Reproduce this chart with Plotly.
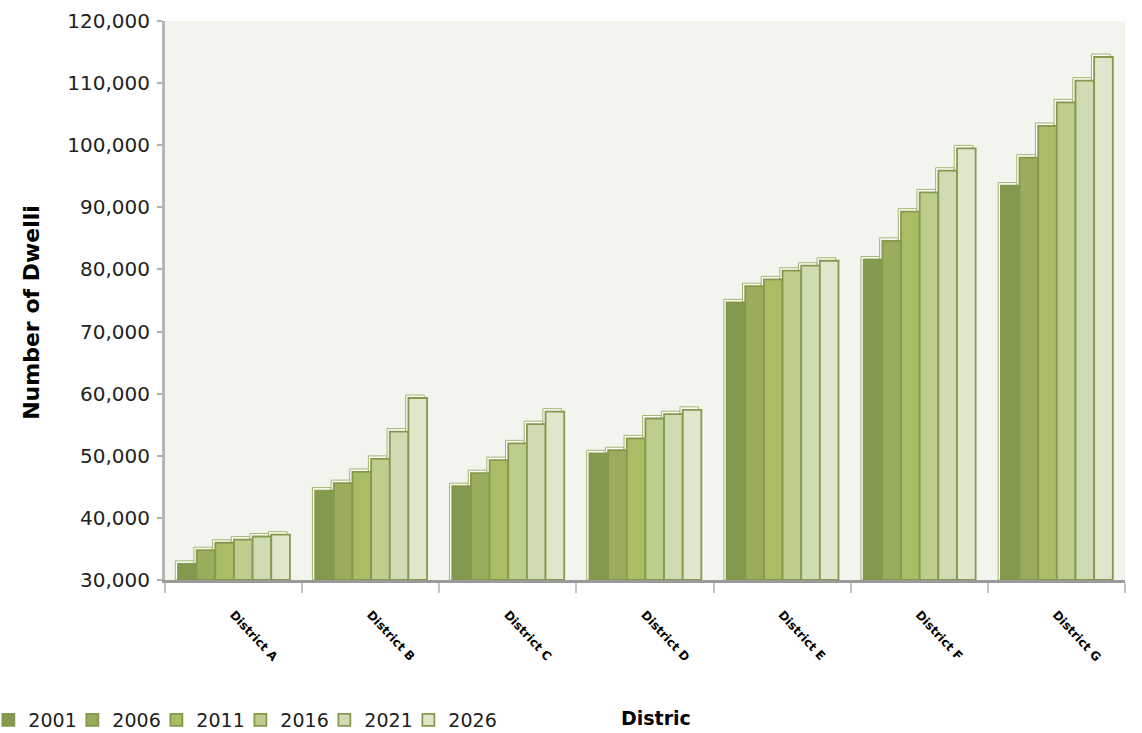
import plotly.graph_objects as go

# Dwelling counts by district, per census / projection year
districts = ["District A", "District B", "District C", "District D",
             "District E", "District F", "District G"]
years = ["2001", "2006", "2011", "2016", "2021", "2026"]

d2001 = [32600, 44400, 45100, 50400, 74700, 81600, 93500]
d2006 = [34800, 45600, 47200, 50900, 77300, 84600, 98000]
d2011 = [36000, 47400, 49300, 52800, 78400, 89300, 103100]
d2016 = [36500, 49500, 52000, 56000, 79800, 92400, 106900]
d2021 = [37000, 53900, 55100, 56700, 80600, 95900, 110400]
d2026 = [37300, 59300, 57100, 57400, 81400, 99500, 114200]

series = [d2001, d2006, d2011, d2016, d2021, d2026]
colors = ["#83994e", "#99ad5c", "#a8bd64", "#bccd8d", "#cfdbb3", "#dfe6cc"]
edge = "#84994e"

# bar geometry in category units
bar_w = 0.136
group_start = -0.405
# pseudo-3D back face: a light box nudged up and to the left of each bar
depth_dx = -0.02
depth_dy = 480

fig = go.Figure()

# back faces first so the front faces cover them
for i, (name, vals) in enumerate(zip(years, series)):
    fig.add_trace(go.Bar(
        x=districts, y=[v + depth_dy - 30000 for v in vals], base=30000,
        width=bar_w, offset=group_start + i * bar_w + depth_dx,
        marker=dict(color="#fbfcf8", line=dict(color="#a2b570", width=1)),
        showlegend=False, hoverinfo="skip",
    ))

for i, (name, vals, col) in enumerate(zip(years, series, colors)):
    fig.add_trace(go.Bar(
        x=districts, y=[v - 30000 for v in vals], base=30000, name=name,
        width=bar_w, offset=group_start + i * bar_w,
        marker=dict(color=col, line=dict(color=edge, width=1.8)),
        customdata=vals, hovertemplate="%{x}<br>" + name + ": %{customdata:,}<extra></extra>",
    ))

# empty trailing legend slot so the last year label has room
fig.add_trace(go.Scatter(
    x=[None], y=[None], mode="markers", name="",
    marker=dict(color="rgba(0,0,0,0)", size=1, line=dict(width=0)),
    hoverinfo="skip", showlegend=True,
))

fig.update_layout(
    width=1142, height=733,
    margin=dict(l=165, r=17, t=21, b=153, autoexpand=False),
    paper_bgcolor="white",
    plot_bgcolor="#f2f5ee",
    barmode="overlay",
    font=dict(family="DejaVu Sans", color="#222222"),
    showlegend=True,
    legend=dict(
        orientation="h",
        xref="paper", yref="paper",
        x=-0.184, y=-0.2504, xanchor="left", yanchor="middle",
        font=dict(size=19, color="#222222"),
        itemwidth=30,
        entrywidth=39, entrywidthmode="pixels",
        bgcolor="rgba(0,0,0,0)",
    ),
)

fig.update_xaxes(
    showline=True, linecolor="#9a9a9a", linewidth=3,
    ticks="outside", tickson="boundaries", ticklen=10,
    tickcolor="#c4c4c4", tickwidth=2,
    tickangle=47, ticklabelstandoff=20,
    tickfont=dict(family="DejaVu Sans", size=12, color="black", weight="bold"),
    showgrid=False,
)

fig.update_yaxes(
    range=[30000, 120000], dtick=10000, tickformat=",",
    showline=True, linecolor="#b5b5b5", linewidth=3,
    ticks="outside", ticklen=5, tickcolor="#b0b0b0", tickwidth=2,
    ticklabelstandoff=3,
    tickfont=dict(family="DejaVu Sans", size=20, color="#222222"),
    showgrid=False, zeroline=False,
)

fig.add_annotation(
    text="Number of Dwelli", textangle=-90,
    xref="paper", yref="paper", x=-0.139, y=0.479, xanchor="center", yanchor="middle",
    showarrow=False,
    font=dict(family="DejaVu Sans", size=22, color="black", weight="bold"),
)
fig.add_annotation(
    text="Distric",
    xref="paper", yref="paper", x=0.511, y=-0.247, xanchor="center", yanchor="middle",
    showarrow=False,
    font=dict(family="DejaVu Sans", size=19, color="black", weight="bold"),
)

fig.write_html("out.html")
